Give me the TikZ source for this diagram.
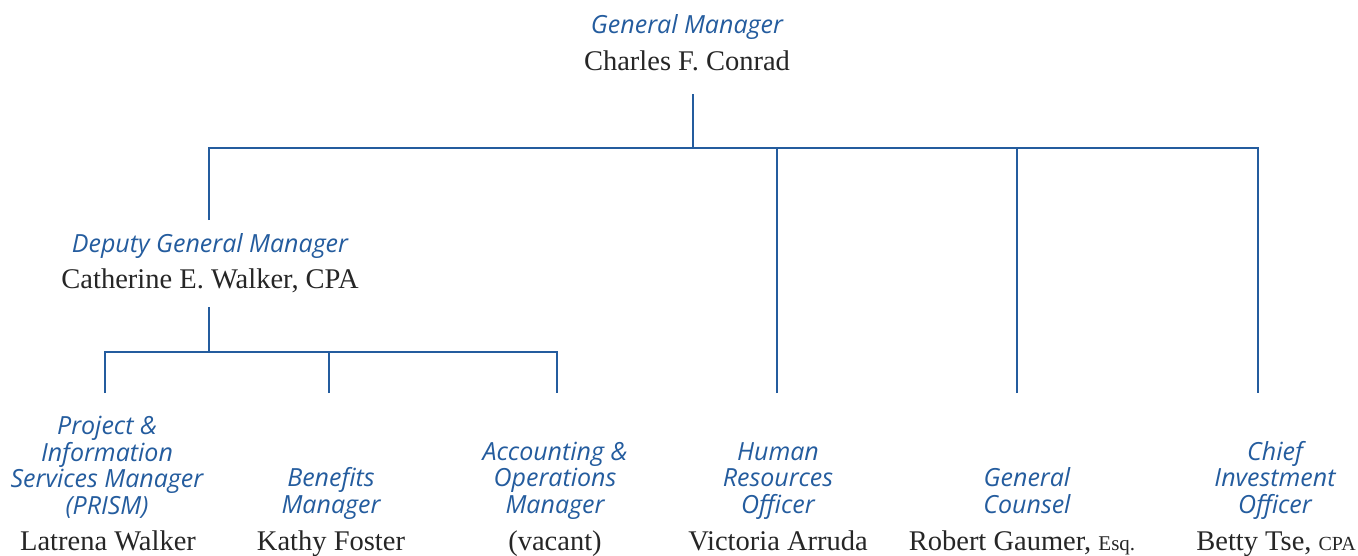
\documentclass[tikz,border=0pt]{standalone}
\usepackage{fontspec}
\setmainfont{Liberation Serif}
\newfontfamily\rolefont{Open Sans}
\definecolor{orgblue}{RGB}{36,92,158}

\begin{document}
\begin{tikzpicture}[x=1pt,y=-1pt,
	role/.style={text=orgblue, font=\rolefont\itshape\fontsize{25}{26.5}\selectfont, align=center, inner sep=0pt, anchor=base},
	person/.style={text=black!85, font=\fontsize{28.5}{30}\selectfont, inner sep=0pt, anchor=base},
	link/.style={draw=orgblue, line width=2.6pt}]
\useasboundingbox (0,0) rectangle (1358,555);
\node[role](gmt) at (687,33) {General Manager};
\node[person](gm) at (687,70) {Charles F. Conrad};
\node[role](dgmt) at (210,252) {Deputy General Manager};
\node[person](dgm) at (210,288) {Catherine E. Walker, CPA};
\node[role](prismt) at (107,514) {Project \&\\Information\\Services Manager\\(PRISM)};
\node[person](prism) at (108,550) {Latrena Walker};
\node[role](bent) at (331,513) {Benefits\\Manager};
\node[person](ben) at (331,550) {Kathy Foster};
\node[role](acct) at (555,513) {Accounting \&\\Operations\\Manager};
\node[person](acc) at (555,550) {(vacant)};
\node[role](hrt) at (778,513) {Human\\Resources\\Officer};
\node[person](hr) at (778,550) {Victoria Arruda};
\node[role](gct) at (1027,513) {General\\Counsel};
\node[person](gc) at (1022,550) {Robert Gaumer, {\fontsize{21}{22}\selectfont Esq.}};
\node[role](ciot) at (1275,513) {Chief\\Investment\\Officer};
\node[person](cio) at (1276,550) {Betty Tse, {\fontsize{20}{22}\selectfont CPA}};
\coordinate(gmfoot) at (693,94);
\coordinate(top) at (693,148);
\coordinate(topR) at (1258,148);
\coordinate(dgmhead) at (209,220);
\coordinate(dgmfoot) at (209,307);
\coordinate(mid) at (209,352);
\coordinate(prismhead) at (105,393);
\coordinate(benhead) at (329,393);
\coordinate(acchead) at (557,393);
\coordinate(hrhead) at (777,393);
\coordinate(gchead) at (1017,393);
\coordinate(ciohead) at (1258,393);
\draw[link](gmfoot)--(top);
\draw[link](dgmhead)|-(topR)--(ciohead);
\draw[link](hrhead)--(hrhead|-top);
\draw[link](gchead)--(gchead|-top);
\draw[link](dgmfoot)--(mid);
\draw[link](prismhead)|-(acchead|-mid)--(acchead);
\draw[link](benhead)--(benhead|-mid);
\end{tikzpicture}
\end{document}
